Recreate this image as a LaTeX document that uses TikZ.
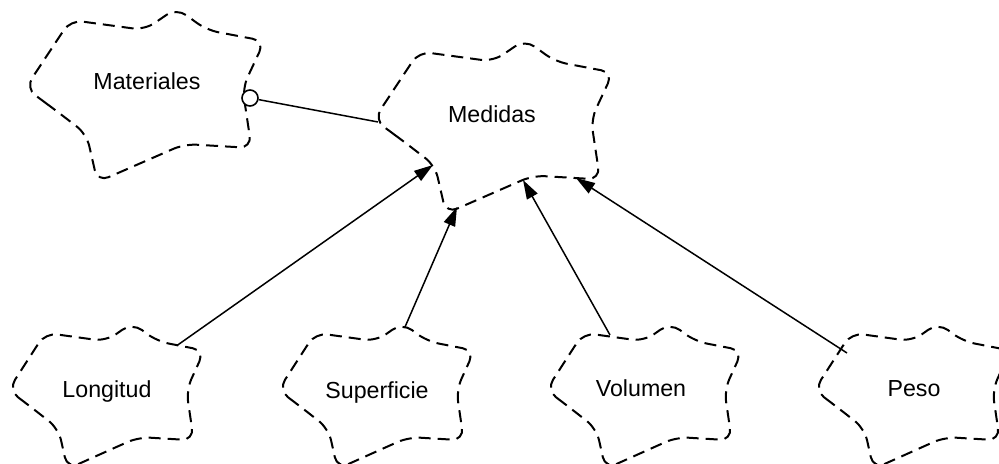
\documentclass[tikz,border=0pt]{standalone}
\usepackage{fontspec}
\setmainfont{Liberation Sans}
\usetikzlibrary{arrows.meta,calc}
\tikzset{
  cloudline/.style={draw=black, line width=1pt, dash pattern=on 6pt off 3.5pt, rounded corners=6pt},
  classname/.style={anchor=base, inner sep=0pt, font=\fontsize{11.6}{14}\selectfont},
  inherit/.style={draw=black, line width=0.75pt, -{Triangle[length=9.5pt,width=6pt]}},
  hasline/.style={draw=black, line width=0.75pt},
  hasmark/.style={circle, draw=black, fill=white, line width=0.8pt, minimum size=8pt, inner sep=0pt},
  % Booch class icon: a dashed cloud centred on the pic origin
  pics/cloudicon/.style={code={
    \path[cloudline] (-88,17) -- (-119,-6) -- (-74,-74) -- (0,-64) -- (32,-86)
      -- (62,-64) -- (120,-53) -- (98,-6) -- (107,54) -- (40,50) -- (-47,88)
      -- (-58,40) -- cycle;
  }},
}
\begin{document}
\begin{tikzpicture}[x=0.5pt,y=-0.5pt]
\useasboundingbox (0,0) rectangle (999,464);

% cloud centres
\coordinate (matc) at (144.5,94);
\coordinate (medc) at (493,125.5);
\coordinate (lonc) at (106,395);
\coordinate (supc) at (376,395);
\coordinate (volc) at (644,395);
\coordinate (pesc) at (912,395);

% class icons
\pic at (matc) {cloudicon};
\pic at (medc) {cloudicon};
\pic[xscale=0.82,yscale=0.84] at (lonc) {cloudicon};
\pic[xscale=0.82,yscale=0.84] at (supc) {cloudicon};
\pic[xscale=0.82,yscale=0.84] at (volc) {cloudicon};
\pic[xscale=0.82,yscale=0.84] at (pesc) {cloudicon};

% class names
\node[classname] (mat) at (147,90) {Materiales};
\node[classname] (med) at (492,123) {Medidas};
\node[classname] (lon) at (107,397) {Longitud};
\node[classname] (sup) at (377,398) {Superficie};
\node[classname] (vol) at (641,396) {Volumen};
\node[classname] (pes) at (914,396) {Peso};

% "has" relationship
\node[hasmark] (has) at ($(matc)+(105.5,4)$) {};
\draw[hasline] (has) -- ($(medc)+(-115,-3.5)$);

% inheritance
\draw[inherit] ($(lonc)+(71,-49.5)$) -- ($(medc)+(-60,39.5)$);
\draw[inherit] ($(supc)+(29,-68)$) -- ($(medc)+(-36,81.5)$);
\draw[inherit] ($(volc)+(-34,-60)$) -- ($(medc)+(30,54.5)$);
\draw[inherit] ($(pesc)+(-65,-42)$) -- ($(medc)+(83,52.5)$);
\end{tikzpicture}
\end{document}
